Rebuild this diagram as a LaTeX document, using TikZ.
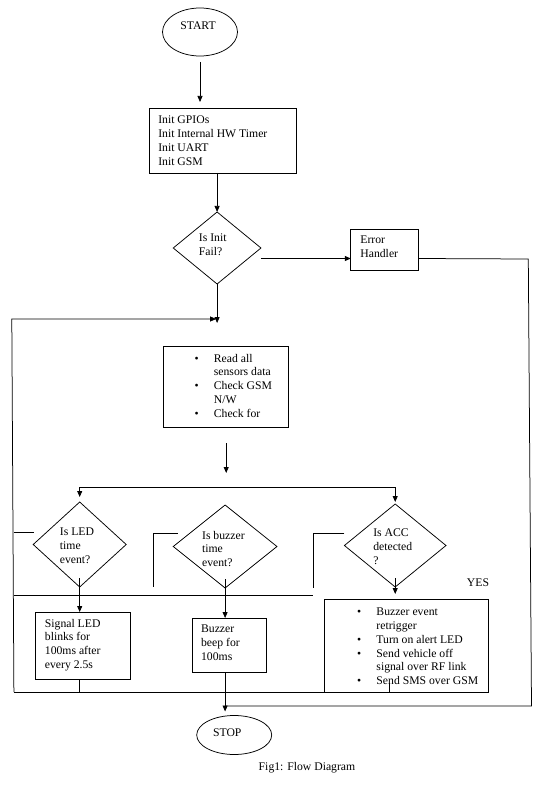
\documentclass[tikz,border=0pt]{standalone}
\usepackage{fontspec}
\setmainfont{Liberation Serif}
\usetikzlibrary{shapes.geometric,arrows.meta}
\newcommand\mybul{\makebox[19.25pt][l]{\textbullet}}
\newcommand\myind{\hspace*{19.25pt}}
\begin{document}
\begin{tikzpicture}[x=1pt,y=-1pt,
  every node/.style={inner sep=0pt, outer sep=0pt},
  ln/.style={line width=0.75pt},
  arr/.style={line width=0.75pt, -{Triangle[length=6pt,width=5pt]}},
  box/.style={draw, line width=0.75pt},
  term/.style={draw, ellipse, line width=0.75pt},
  dia/.style={draw, diamond, line width=0.75pt},
  txt/.style={align=left, anchor=north west, font=\fontsize{11.7}{13.8}\selectfont},
  lbl/.style={font=\fontsize{11.7}{13.8}\selectfont}
]
\path[fill=white] (0,0) rectangle (559,786);
% nodes
\node[term, minimum width=75, minimum height=48] (start) at (200,32) {};
\node[lbl] (startT) at (198,25.5) {START};
\node[box, minimum width=146.5, minimum height=65] (init) at (223,140.5) {};
\node[txt] (initT) at (158.3,116) {Init GPIOs\\Init Internal HW Timer\\Init UART\\Init GSM};
\node[dia, minimum width=87.7, minimum height=72] (d0) at (217.1,248) {};
\node[txt] (d0T) at (198.9,234) {Is Init\\Fail?};
\node[box, minimum width=67.4, minimum height=41] (err) at (384.5,249.5) {};
\node[txt] (errT) at (360.4,236) {Error\\Handler};
\node[box, minimum width=125.1, minimum height=81] (read) at (226.2,386.5) {};
\node[txt] (readT) at (194.6,354) {\mybul Read all\\\myind sensors data\\\mybul Check GSM\\\myind N/W\\\mybul Check for};
\node[dia, minimum width=93, minimum height=85] (dled) at (79.7,544.5) {};
\node[txt] (dledT) at (59.9,528) {Is LED\\time\\event?};
\node[dia, minimum width=103.7, minimum height=83] (dbuz) at (225.1,546.5) {};
\node[txt] (dbuzT) at (202.1,531) {Is buzzer\\time\\event?};
\node[dia, minimum width=101.6, minimum height=83] (dacc) at (395.2,545.5) {};
\node[txt] (daccT) at (373.3,529) {Is ACC\\detected\\?};
\node[box, minimum width=95.2, minimum height=67] (led) at (82.9,645.5) {};
\node[txt] (ledT) at (44.9,619) {Signal LED\\blinks for\\100ms after\\every 2.5s};
\node[box, minimum width=73.8, minimum height=54] (buz) at (229.4,645) {};
\node[txt] (buzT) at (201.1,625) {Buzzer\\beep for\\100ms};
\node[box, minimum width=164.7, minimum height=93] (acc) at (406.4,645.5) {};
\node[txt] (accT) at (357.2,608) {\mybul Buzzer event\\\myind retrigger\\\mybul Turn on alert LED\\\mybul Send vehicle off\\\myind signal over RF link\\\mybul Send SMS over GSM};
\node[lbl] (yes) at (478,583) {YES};
\node[term, minimum width=75, minimum height=39] (stop) at (234.2,735) {};
\node[lbl] (stopT) at (227.3,733) {STOP};
\node[lbl] (cap) at (307,768) {Fig1: Flow Diagram};
% coordinates
\coordinate (tl) at (11.8,319);
\coordinate (bl) at (13.9,692);
\coordinate (split) at (225.7,487);
\coordinate (rt) at (528.3,259);
\coordinate (rb) at (531.5,706);
\coordinate (ledStub) at (13.9,532);
\coordinate (buzStub) at (152.9,533);
\coordinate (accStub) at (313.4,533);
\coordinate (accIn) at (389.3,683);
\coordinate (midL) at (13.9,595);
% connectors
\draw[arr, shorten <=6pt, shorten >=6pt] (start.south) -- (start.south |- init.north);
\draw[arr] (d0.north |- init.south) -- (d0.north);
\draw[arr] ([yshift=-10.5pt]d0.east) -- ([yshift=-9pt]err.west);
\draw[ln] ([yshift=-9pt]err.east) -- (rt) -- (rb) -- (rb -| dbuz.south);
\draw[arr, shorten >=23pt] (d0.south) -- (d0.south |- read.north);
\draw[arr, shorten >=1pt] (bl) -- (tl) -- (tl -| d0.south);
\draw[arr, shorten <=16pt, shorten >=14pt] (read.south) -- (read.south |- split);
\draw[ln] (split -| dled.north) -- (split -| dacc.north);
\draw[arr, shorten >=5pt] (split -| dled.north) -- (dled.north);
\draw[arr, shorten >=2pt] (split -| dacc.north) -- (dacc.north);
\draw[ln] (ledStub) -- ([xshift=20.3pt]ledStub);
\draw[ln] ([xshift=24.6pt]buzStub) -- (buzStub) -- ++(0,54);
\draw[ln] ([xshift=31pt]accStub) -- (accStub) -- ++(0,55);
\draw[ln] (midL) -- (midL -| accStub);
\draw[arr] ([yshift=9pt]dled.south) -- (dled.south |- led.north);
\draw[arr] ([yshift=9pt]dbuz.south) -- (dbuz.south |- buz.north);
\draw[arr, shorten >=5pt] ([yshift=9pt]dacc.south) -- (dacc.south |- acc.north);
\draw[ln] (led.south -| dled.south) -- (dled.south |- bl);
\draw[ln] (accIn) -- (accIn |- acc.south) -- (bl);
\draw[arr, shorten >=4pt] (buz.south -| dbuz.south) -- (dbuz.south |- stop.north);
\end{tikzpicture}
\end{document}
